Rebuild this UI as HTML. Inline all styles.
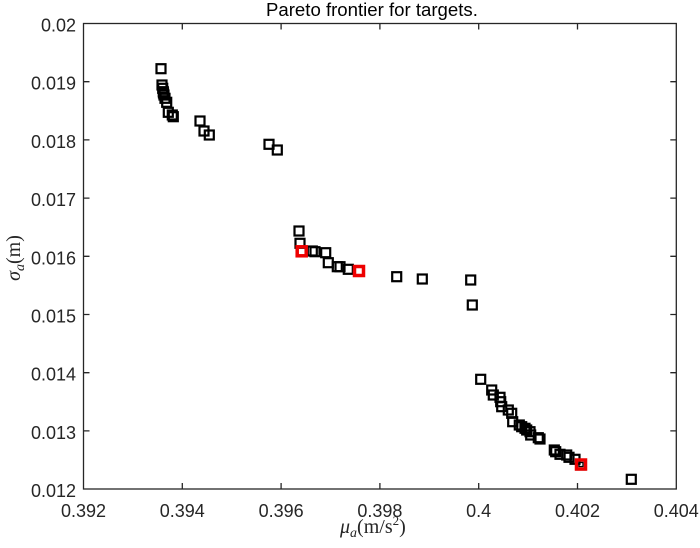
<!DOCTYPE html>
<html>
<head>
<meta charset="utf-8">
<style>
html,body{margin:0;padding:0;background:#fff;}
svg{display:block;}
</style>
</head>
<body>
<svg width="700" height="548" viewBox="0 0 700 548" xmlns="http://www.w3.org/2000/svg">
<rect x="0" y="0" width="700" height="548" fill="#fff"/>
<g stroke="#262626" stroke-width="1.3" fill="none">
<rect x="83.5" y="23.5" width="592.8" height="465.5"/>
<path d="M182.3 489v-6M281.1 489v-6M379.9 489v-6M478.7 489v-6M577.5 489v-6
M182.3 23.5v6M281.1 23.5v6M379.9 23.5v6M478.7 23.5v6M577.5 23.5v6
M83.5 81.7h6M83.5 139.9h6M83.5 198.1h6M83.5 256.3h6M83.5 314.5h6M83.5 372.7h6M83.5 430.9h6
M676.3 81.7h-6M676.3 139.9h-6M676.3 198.1h-6M676.3 256.3h-6M676.3 314.5h-6M676.3 372.7h-6M676.3 430.9h-6"/>
</g>
<g font-family="Liberation Sans, Arial, sans-serif" font-size="18" fill="#262626">
<g text-anchor="end">
<text x="76" y="31.5">0.02</text>
<text x="76" y="89.7">0.019</text>
<text x="76" y="147.9">0.018</text>
<text x="76" y="206.1">0.017</text>
<text x="76" y="264.3">0.016</text>
<text x="76" y="322.5">0.015</text>
<text x="76" y="380.7">0.014</text>
<text x="76" y="438.9">0.013</text>
<text x="76" y="497">0.012</text>
</g>
<g text-anchor="middle">
<text x="83.5" y="517">0.392</text>
<text x="182.3" y="517">0.394</text>
<text x="281.1" y="517">0.396</text>
<text x="379.9" y="517">0.398</text>
<text x="478.7" y="517">0.4</text>
<text x="577.5" y="517">0.402</text>
<text x="676.3" y="517">0.404</text>
</g>
<text x="266" y="16" font-size="18.6" fill="#000">Pareto frontier for targets.</text>
</g>
<text x="340" y="533" font-family="Liberation Serif, DejaVu Serif, serif" font-size="20" fill="#262626"><tspan font-style="italic">μ</tspan><tspan font-style="italic" font-size="14" dy="4">a</tspan><tspan dy="-4">(m/s</tspan><tspan font-size="13" dy="-8">2</tspan><tspan dy="8">)</tspan></text>
<text transform="translate(20,258) rotate(-90)" text-anchor="middle" font-family="Liberation Serif, DejaVu Serif, serif" font-size="20" fill="#262626"><tspan font-style="italic">σ</tspan><tspan font-style="italic" font-size="14" dy="4">a</tspan><tspan dy="-4">(m)</tspan></text>
<g fill="none" stroke="#000" stroke-width="2.2">
<rect x="156.5" y="64.2" width="9" height="9"/>
<rect x="158.2" y="83.8" width="9" height="9"/>
<rect x="157.5" y="80.5" width="9" height="9"/>
<rect x="158.8" y="87.2" width="9" height="9"/>
<rect x="159" y="88.5" width="9" height="9"/>
<rect x="159.5" y="90.5" width="9" height="9"/>
<rect x="160.5" y="93.8" width="9" height="9"/>
<rect x="162.2" y="97.8" width="9" height="9"/>
<rect x="163.8" y="107.8" width="9" height="9"/>
<rect x="167.8" y="110.5" width="9" height="9"/>
<rect x="168.8" y="112.2" width="9" height="9"/>
<rect x="195.5" y="116.5" width="9" height="9"/>
<rect x="199.5" y="126.5" width="9" height="9"/>
<rect x="204.8" y="130.5" width="9" height="9"/>
<rect x="264.5" y="139.8" width="9" height="9"/>
<rect x="272.8" y="145.5" width="9" height="9"/>
<rect x="294.5" y="226.5" width="9" height="9"/>
<rect x="295.5" y="238.8" width="9" height="9"/>
<rect x="297.2" y="247.2" width="9" height="9"/>
<rect x="307.8" y="246.5" width="9" height="9"/>
<rect x="310.5" y="247.2" width="9" height="9"/>
<rect x="321.2" y="248.2" width="9" height="9"/>
<rect x="323.8" y="258.2" width="9" height="9"/>
<rect x="332.8" y="262.2" width="9" height="9"/>
<rect x="335.5" y="262.2" width="9" height="9"/>
<rect x="343.8" y="264.8" width="9" height="9"/>
<rect x="354.5" y="266.5" width="9" height="9"/>
<rect x="392.2" y="272.2" width="9" height="9"/>
<rect x="417.8" y="274.5" width="9" height="9"/>
<rect x="466.2" y="275.5" width="9" height="9"/>
<rect x="467.8" y="300.5" width="9" height="9"/>
<rect x="476.2" y="374.8" width="9" height="9"/>
<rect x="487.2" y="385.5" width="9" height="9"/>
<rect x="488.8" y="390.5" width="9" height="9"/>
<rect x="495.5" y="392.8" width="9" height="9"/>
<rect x="496.2" y="397.2" width="9" height="9"/>
<rect x="497.2" y="402.2" width="9" height="9"/>
<rect x="503.8" y="405.5" width="9" height="9"/>
<rect x="507.2" y="408.8" width="9" height="9"/>
<rect x="508.2" y="417.2" width="9" height="9"/>
<rect x="514.8" y="420.5" width="9" height="9"/>
<rect x="517.2" y="422.2" width="9" height="9"/>
<rect x="520.5" y="423.8" width="9" height="9"/>
<rect x="522.2" y="425.5" width="9" height="9"/>
<rect x="525.5" y="427.2" width="9" height="9"/>
<rect x="526.2" y="430.5" width="9" height="9"/>
<rect x="533.8" y="433.2" width="9" height="9"/>
<rect x="535.5" y="434.5" width="9" height="9"/>
<rect x="549.8" y="445.5" width="9" height="9"/>
<rect x="551.2" y="447.2" width="9" height="9"/>
<rect x="555.5" y="449.8" width="9" height="9"/>
<rect x="562.2" y="450.5" width="9" height="9"/>
<rect x="564.5" y="452.8" width="9" height="9"/>
<rect x="570.5" y="454.8" width="9" height="9"/>
<rect x="576.2" y="460.5" width="9" height="9"/>
<rect x="626.8" y="474.8" width="9" height="9"/>
</g>
<g fill="none" stroke="#ee0000" stroke-width="3.5">
<rect x="297.2" y="246.8" width="9" height="9"/>
<rect x="354.5" y="266.5" width="9" height="9"/>
<rect x="576.5" y="460" width="9" height="9"/>
</g>
<g fill="none" stroke="#000" stroke-width="1.3">
<rect x="579" y="462.5" width="4" height="4"/>
</g>
</svg>
</body>
</html>
